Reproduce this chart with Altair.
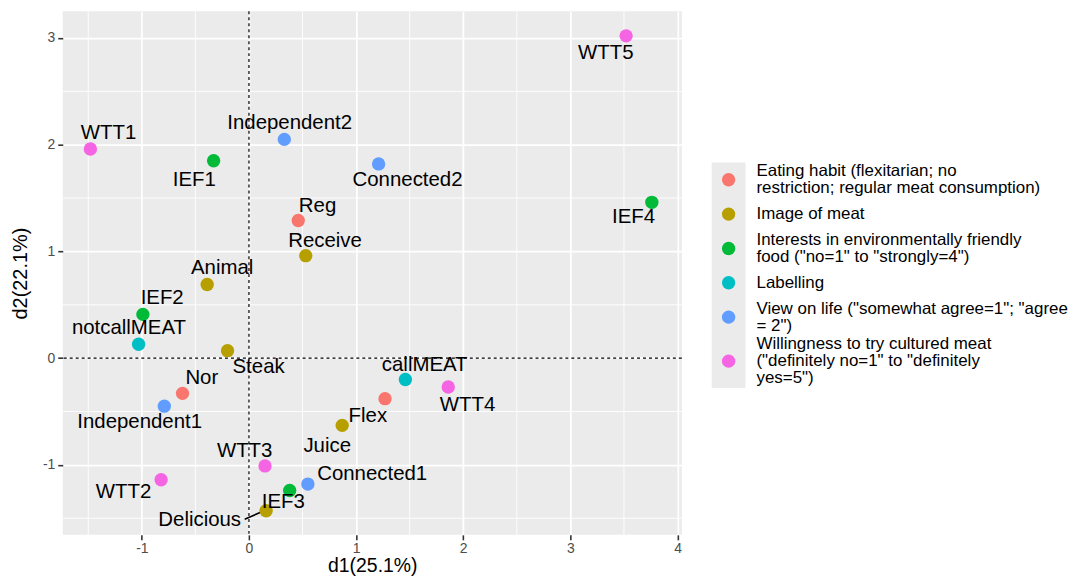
import altair as alt
import pandas as pd

# ---------------- data ----------------
names = ["WTT5", "WTT1", "IEF1", "Independent2", "Connected2", "Reg", "Receive",
         "Animal", "IEF4", "IEF2", "notcallMEAT", "Steak", "Nor", "Independent1",
         "callMEAT", "WTT4", "Flex", "Juice", "WTT3", "WTT2", "IEF3", "Connected1",
         "Delicious"]
d1 = [3.52, -1.48, -0.33, 0.33, 1.21, 0.46, 0.53, -0.39, 3.76, -0.99, -1.03, -0.20,
      -0.62, -0.79, 1.46, 1.86, 1.27, 0.87, 0.15, -0.82, 0.38, 0.55, 0.16]
d2 = [3.02, 1.96, 1.85, 2.05, 1.82, 1.29, 0.96, 0.69, 1.46, 0.41, 0.13, 0.07,
      -0.33, -0.45, -0.20, -0.27, -0.38, -0.63, -1.01, -1.14, -1.24, -1.18, -1.43]
# label positions (repelled text), in data units
lab_d1 = [3.33, -1.31, -0.51, 0.38, 1.48, 0.64, 0.71, -0.25, 3.59, -0.81, -1.12, 0.09,
          -0.44, -1.02, 1.64, 2.04, 1.11, 0.73, -0.04, -1.17, 0.32, 1.15, -0.46]
lab_d2 = [2.86, 2.11, 1.67, 2.20, 1.67, 1.43, 1.10, 0.84, 1.32, 0.56, 0.28, -0.08,
          -0.19, -0.60, -0.06, -0.44, -0.54, -0.82, -0.87, -1.25, -1.35, -1.09, -1.52]

groups = [
    "Eating habit (flexitarian; no restriction; regular meat consumption)",
    "Image of meat",
    "Interests in environmentally friendly food (\"no=1\" to \"strongly=4\")",
    "Labelling",
    "View on life (\"somewhat agree=1\"; \"agree = 2\")",
    "Willingness to try cultured meat (\"definitely no=1\" to \"definitely yes=5\")",
]
group_lines = [
    ["Eating habit (flexitarian; no", "restriction; regular meat consumption)"],
    ["Image of meat"],
    ["Interests in environmentally friendly", "food (\"no=1\" to \"strongly=4\")"],
    ["Labelling"],
    ["View on life (\"somewhat agree=1\"; \"agree", "= 2\")"],
    ["Willingness to try cultured meat", "(\"definitely no=1\" to \"definitely", "yes=5\")"],
]
colors = ["#F8766D", "#B79F00", "#00BA38", "#00BFC4", "#619CFF", "#F564E3"]

point_group = [5, 5, 2, 4, 4, 0, 1, 1, 2, 2, 3, 1, 0, 4, 3, 5, 0, 1, 5, 5, 2, 4, 1]

x_ticks = [-1, 0, 1, 2, 3, 4]
y_ticks = [-1, 0, 1, 2, 3]
x_minor = [-1.5, -0.5, 0.5, 1.5, 2.5, 3.5]
y_minor = [-1.5, -0.5, 0.5, 1.5, 2.5]

# segment joining the "Delicious" label to its point
seg_from = (-0.04, -1.51)
seg_to = (0.14, -1.43)

# ---------------- frames ----------------
pts = pd.DataFrame({
    "name": names, "d1": d1, "d2": d2, "lx": lab_d1, "ly": lab_d2,
    "group": [groups[g] for g in point_group],
})

FONT = "Liberation Sans"
W, H = 622, 526
xdom = [-1.738, 4.04]
ydom = [-1.656, 3.25]

xs = alt.Scale(domain=xdom, nice=False, zero=False)
ys = alt.Scale(domain=ydom, nice=False, zero=False)
cscale = alt.Scale(domain=groups, range=colors)

common_axis = dict(domain=False, tickColor="#333333", tickWidth=1.6, tickSize=5,
                   labelColor="#4D4D4D", labelFontSize=14, labelFont=FONT,
                   titleFont=FONT, titleFontWeight="normal",
                   titleColor="black", grid=True, gridColor="white",
                   gridWidth=1.8, labelExpr="'' + datum.value")
xaxis = alt.Axis(values=x_ticks, title="d1(25.1%)", titlePadding=1, labelPadding=2,
                 titleFontSize=19.5, **common_axis)
yaxis = alt.Axis(values=y_ticks, title="d2(22.1%)", titlePadding=12, labelPadding=3,
                 titleFontSize=20, **common_axis)

minor_x = alt.Chart(pd.DataFrame({"v": x_minor})).mark_rule(
    color="white", strokeWidth=0.9).encode(x=alt.X("v:Q", scale=xs, axis=xaxis))
minor_y = alt.Chart(pd.DataFrame({"v": y_minor})).mark_rule(
    color="white", strokeWidth=0.9).encode(y=alt.Y("v:Q", scale=ys, axis=yaxis))

zero_v = alt.Chart(pd.DataFrame({"v": [0]})).mark_rule(
    color="black", strokeDash=[3, 3], strokeWidth=1.2).encode(x=alt.X("v:Q", scale=xs))
zero_h = alt.Chart(pd.DataFrame({"v": [0]})).mark_rule(
    color="black", strokeDash=[3, 3], strokeWidth=1.2).encode(y=alt.Y("v:Q", scale=ys))

points = alt.Chart(pts).mark_circle(size=180, opacity=1).encode(
    x=alt.X("d1:Q", scale=xs),
    y=alt.Y("d2:Q", scale=ys),
    color=alt.Color("group:N", scale=cscale, legend=None),
)

labels = alt.Chart(pts).mark_text(font=FONT, fontSize=20.5, color="black",
                                  align="center", baseline="middle").encode(
    x=alt.X("lx:Q", scale=xs), y=alt.Y("ly:Q", scale=ys), text="name:N")

seg = alt.Chart(pd.DataFrame({"x": [seg_from[0]], "y": [seg_from[1]],
                              "x2": [seg_to[0]], "y2": [seg_to[1]]})).mark_rule(
    color="black", strokeWidth=1.6).encode(
    x=alt.X("x:Q", scale=xs), y=alt.Y("y:Q", scale=ys), x2="x2:Q", y2="y2:Q")

scatter = alt.layer(minor_x, minor_y, zero_v, zero_h, seg, points, labels).properties(
    width=W, height=H, view=alt.ViewBackground(fill="#EBEBEB", stroke=None))

# ---------------- legend panel ----------------
LW = 385
LINE_H = 17.3
KEY_H = 34.5
key_x0, key_x1 = 29, 63
sym_x, txt_x = 46, 74
top0 = 152
heights = [KEY_H if len(l) <= 2 else LINE_H * len(l) + 2 for l in group_lines]
tops = []
acc = top0
for h in heights:
    tops.append(acc)
    acc += h
centers = [t + h / 2 for t, h in zip(tops, heights)]
leg = pd.DataFrame({
    "group": groups,
    "yc": centers,
    "ty": [c - (len(l) - 1) * LINE_H / 2 for c, l in zip(centers, group_lines)],
    "txt": ["\n".join(l) for l in group_lines],
    "sx": [sym_x] * len(groups),
    "tx": [txt_x] * len(groups),
})
lxs = alt.Scale(domain=[0, LW], nice=False, zero=False)
lys = alt.Scale(domain=[0, H], nice=False, zero=False, reverse=True)

key_bg = alt.Chart(pd.DataFrame({"x": [key_x0], "x2": [key_x1], "y": [top0], "y2": [acc]})).mark_rect(
    color="#EBEBEB").encode(
    x=alt.X("x:Q", scale=lxs, axis=None), x2="x2:Q",
    y=alt.Y("y:Q", scale=lys, axis=None), y2="y2:Q")
leg_sym = alt.Chart(leg).mark_circle(size=180, opacity=1).encode(
    x=alt.X("sx:Q", scale=lxs, axis=None), y=alt.Y("yc:Q", scale=lys, axis=None),
    color=alt.Color("group:N", scale=cscale, legend=None))
leg_txt = alt.Chart(leg).mark_text(font=FONT, fontSize=17, color="black", align="left",
                                   baseline="middle", lineBreak="\n", lineHeight=LINE_H).encode(
    x=alt.X("tx:Q", scale=lxs, axis=None), y=alt.Y("ty:Q", scale=lys, axis=None), text="txt:N")
legend_panel = alt.layer(key_bg, leg_sym, leg_txt).properties(
    width=LW, height=H, view=alt.ViewBackground(fill=None, stroke=None))

chart = alt.hconcat(scatter, legend_panel, spacing=0).properties(
    padding={"left": 2, "top": 1, "right": 0, "bottom": 0})

chart.save("out.html", embed_options={"renderer": "svg", "actions": False})
